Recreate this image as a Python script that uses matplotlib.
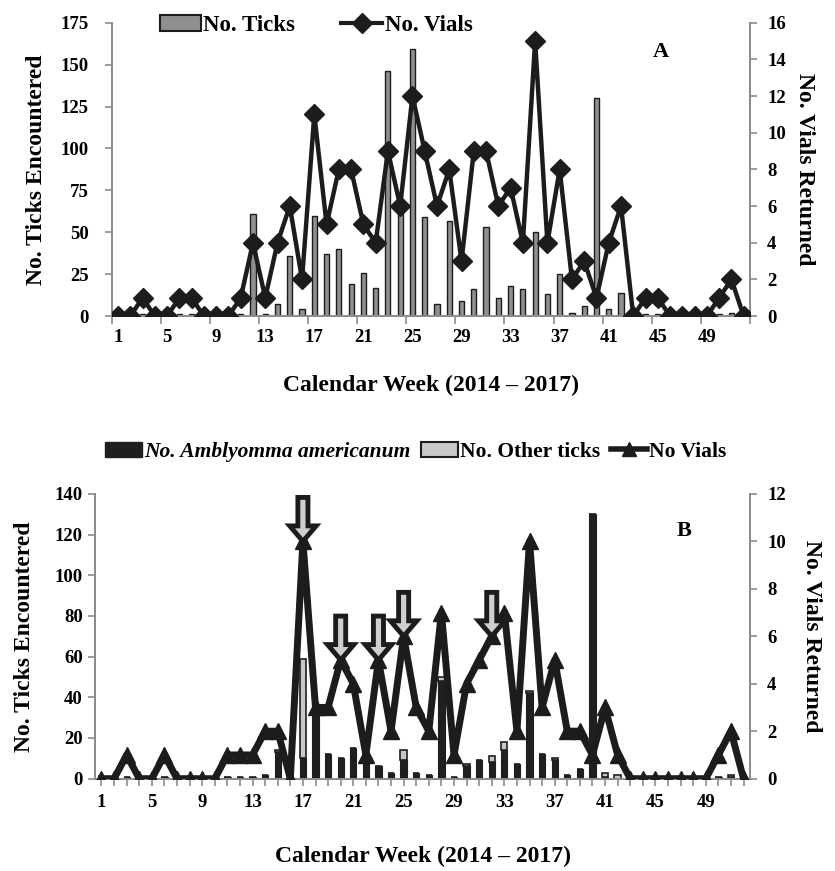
import numpy as np
import matplotlib
matplotlib.use("Agg")
import matplotlib.pyplot as plt
from matplotlib.patches import FancyArrow
from matplotlib.lines import Line2D
from matplotlib.patches import Patch

plt.rcParams['font.family'] = ['Liberation Serif', 'DejaVu Serif']
plt.rcParams['font.weight'] = 'bold'
plt.rcParams['axes.labelweight'] = 'bold'
plt.rcParams['font.size'] = 13.5

weeks = np.arange(1, 53)
week_labels = [str(w) for w in range(1, 53, 4)]

# panel A
ticks_a = [0, 0, 1, 0, 0, 1, 1, 0, 0, 0,
           1, 61, 1, 7, 36, 4, 60, 37, 40, 19,
           26, 17, 146, 62, 159, 59, 7, 57, 9, 16,
           53, 11, 18, 16, 50, 13, 25, 2, 6, 130,
           4, 14, 0, 1, 1, 0, 0, 0, 0, 1,
           2, 0]
vials_a = [0, 0, 1, 0, 0, 1, 1, 0, 0, 0,
           1, 4, 1, 4, 6, 2, 11, 5, 8, 8,
           5, 4, 9, 6, 12, 9, 6, 8, 3, 9,
           9, 6, 7, 4, 15, 4, 8, 2, 3, 1,
           4, 6, 0, 1, 1, 0, 0, 0, 0, 1,
           2, 0]

# panel B
amblyomma_b = [0, 0, 1, 0, 0, 1, 0, 0, 0, 0,
               1, 1, 1, 2, 13, 0, 10, 33, 12, 10,
               15, 8, 6, 3, 9, 3, 2, 48, 1, 6,
               9, 8, 14, 7, 42, 12, 9, 2, 5, 130,
               1, 0, 0, 0, 0, 0, 0, 0, 0, 1,
               1, 0]
other_b = [0, 0, 0, 0, 0, 0, 0, 0, 0, 0,
           0, 0, 0, 0, 1, 0, 49, 0, 0, 0,
           0, 0, 0, 0, 5, 0, 0, 2, 0, 1,
           0, 3, 4, 0, 1, 0, 1, 0, 0, 0,
           2, 2, 0, 0, 0, 0, 0, 0, 0, 0,
           1, 0]
vials_b = [0, 0, 1, 0, 0, 1, 0, 0, 0, 0,
           1, 1, 1, 2, 2, 0, 10, 3, 3, 5,
           4, 1, 5, 2, 6, 3, 2, 7, 1, 4,
           5, 6, 7, 2, 10, 3, 5, 2, 2, 1,
           3, 1, 0, 0, 0, 0, 0, 0, 0, 1,
           2, 0]
arrow_weeks = [17, 20, 23, 25, 32]

spine_col = '#8c8c8c'
line_col = '#1c1c1c'
label_size = 17


def style_axes(ax, ax2, left_pad):
    for a in (ax, ax2):
        a.spines['top'].set_visible(False)
        for s in ('left', 'right', 'bottom'):
            a.spines[s].set_color(spine_col)
            a.spines[s].set_linewidth(1.3)
        a.tick_params(axis='both', colors=spine_col, labelcolor='black',
                      direction='out', length=5, width=1.2)
    ax.tick_params(axis='y', pad=left_pad)
    ax2.tick_params(axis='y', pad=7.5)
    ax.set_xlim(0.5, 52.5)


fig = plt.figure(figsize=(8.35, 8.71), dpi=100)

# ---------------- A ----------------
axA = fig.add_axes([0.134, 0.637, 0.764, 0.337])
axA2 = axA.twinx()
axA.bar(weeks, ticks_a, width=0.42, color='#8f8f8f', edgecolor='#1c1c1c',
        linewidth=1.0, zorder=2)
axA2.plot(weeks, vials_a, color=line_col, lw=3.2, marker='D', markersize=10,
          zorder=3)
style_axes(axA, axA2, 11.5)
axA.set_ylim(0, 175)
axA.set_yticks(range(0, 176, 25))
axA2.set_ylim(0, 16)
axA2.set_yticks(range(0, 17, 2))
axA.set_xticks(range(1, 53, 4))
axA.set_xticklabels(week_labels)
axA.set_xticks(np.arange(0.5, 53, 4), minor=True)
axA.tick_params(axis='x', which='major', length=0, pad=9)
axA.tick_params(axis='x', which='minor', length=6, width=1.2, colors=spine_col)
axA.set_ylabel('No. Ticks Encountered', fontsize=label_size, labelpad=10)
axA2.set_ylabel('No. Vials Returned', fontsize=label_size, rotation=270,
                labelpad=21)
axA.set_xlabel('Calendar Week (2014 \u2013 2017)', fontsize=label_size,
               labelpad=21)
axA2.text(0.86, 0.9, 'A', transform=axA2.transAxes, fontsize=16,
          ha='center', va='center')
axA2.set_zorder(axA.get_zorder() + 1)
axA2.patch.set_visible(False)
handles_a = [Patch(facecolor='#8f8f8f', edgecolor='#1c1c1c', linewidth=1.5),
             Line2D([], [], color=line_col, lw=3, marker='D', markersize=10)]
axA2.legend(handles_a, ['No. Ticks', 'No. Vials'], loc='center',
            bbox_to_anchor=(0.32, 0.99), ncol=2, frameon=False,
            handlelength=1.8, handletextpad=0.1, columnspacing=2.0,
            fontsize=16.5)

# ---------------- B ----------------
axB = fig.add_axes([0.114, 0.106, 0.784, 0.327])
axB2 = axB.twinx()
axB.bar(weeks, amblyomma_b, width=0.5, color='#1f1f1f', edgecolor='#1f1f1f',
        linewidth=0.8, zorder=2)
axB.bar(weeks, other_b, bottom=amblyomma_b, width=0.5, color='#c8c8c8',
        edgecolor='#1f1f1f', linewidth=1.2, zorder=2)
axB2.plot(weeks, vials_b, color=line_col, lw=5, marker='^', markersize=12,
          zorder=3)
# hollow down arrows pointing at selected weeks
for w in arrow_weeks:
    tip = vials_b[w - 1]
    axB2.add_patch(FancyArrow(w, tip + 1.85, 0, -1.85, width=0.8,
                              head_width=2.1, head_length=0.65,
                              length_includes_head=True, facecolor='#cfcfcf',
                              edgecolor='#1c1c1c', linewidth=3.5, zorder=4))
style_axes(axB, axB2, 4)
axB.set_ylim(0, 140)
axB.set_yticks(range(0, 141, 20))
axB2.set_ylim(0, 12)
axB2.set_yticks(range(0, 13, 2))
axB.set_xticks(weeks)
axB.set_xticklabels([str(w) if (w - 1) % 4 == 0 else '' for w in weeks])
axB.tick_params(axis='x', pad=6)
axB.set_ylabel('No. Ticks Encountered', fontsize=label_size, labelpad=14)
axB2.set_ylabel('No. Vials Returned', fontsize=label_size, rotation=270,
                labelpad=26)
axB.set_xlabel('Calendar Week (2014 \u2013 2017)', fontsize=label_size,
               labelpad=25)
axB2.text(0.9, 0.87, 'B', transform=axB2.transAxes, fontsize=16,
          ha='center', va='center')
axB2.set_zorder(axB.get_zorder() + 1)
axB2.patch.set_visible(False)
handles_b = [Patch(facecolor='#1f1f1f', edgecolor='#1f1f1f'),
             Patch(facecolor='#c8c8c8', edgecolor='#1c1c1c', linewidth=1.5),
             Line2D([], [], color=line_col, lw=4, marker='^', markersize=10)]
legB = axB2.legend(handles_b, ['No. Amblyomma americanum', 'No. Other ticks',
                               'No Vials'],
                   loc='center', bbox_to_anchor=(0.49, 1.147), ncol=3,
                   frameon=False, handlelength=1.7, handletextpad=0.1,
                   columnspacing=0.5, fontsize=15.5)
legB.get_texts()[0].set_fontstyle('italic')

fig.savefig('out.png', dpi=100)
